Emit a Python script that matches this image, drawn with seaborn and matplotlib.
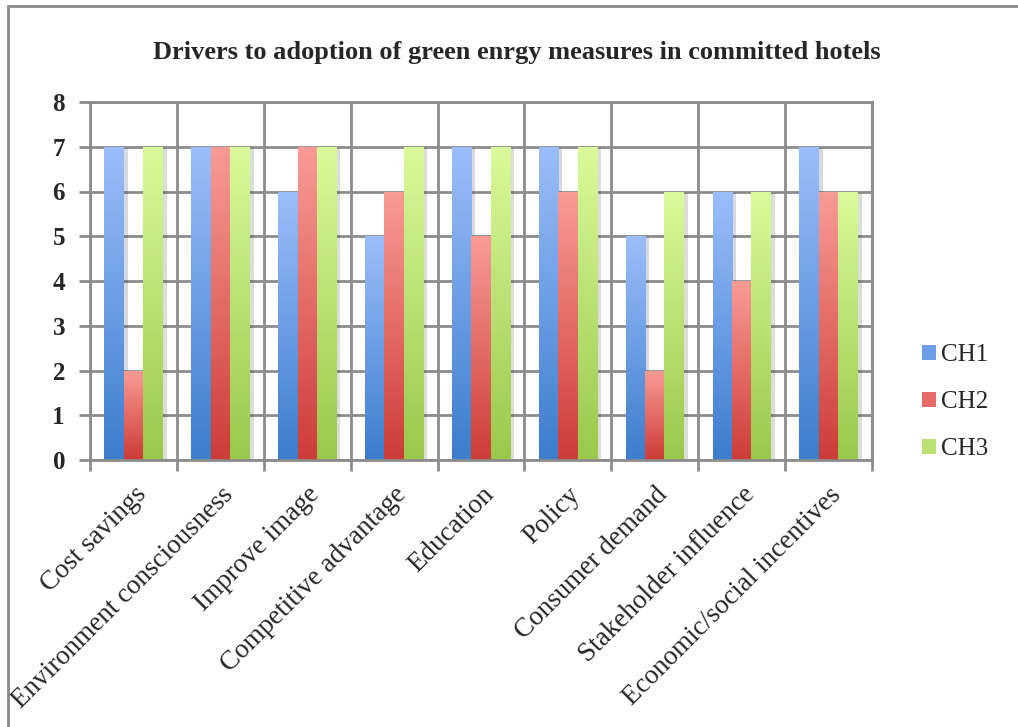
import numpy as np
import pandas as pd
import seaborn as sns
import matplotlib.pyplot as plt
import matplotlib.patheffects as pe
from matplotlib.colors import to_rgb
from matplotlib.patches import Patch, Rectangle

categories = ["Cost savings", "Environment consciousness", "Improve image",
              "Competitive advantage", "Education", "Policy", "Consumer demand",
              "Stakeholder influence", "Economic/social incentives"]
ch1 = [7, 7, 6, 5, 7, 7, 5, 6, 7]
ch2 = [2, 7, 7, 6, 5, 6, 2, 4, 6]
ch3 = [7, 7, 7, 7, 7, 7, 6, 6, 6]
series = ["CH1", "CH2", "CH3"]

# light (top) / dark (bottom) gradient ends per series
tops = ["#9bbefa", "#fa9b96", "#dafa9b"]
bottoms = ["#3c7dcd", "#cd3c37", "#9bc84b"]
mids = ["#6d9de4", "#e46b67", "#bbe172"]

df = pd.DataFrame({"Driver": categories * 3,
                   "Series": sum([[s] * len(categories) for s in series], []),
                   "Value": ch1 + ch2 + ch3})

sns.set_theme(style="white")
plt.rcParams['font.family'] = ['Liberation Serif', 'DejaVu Serif']
grid_col = "#8c8c8c"

fig = plt.figure(figsize=(10.18, 7.27), dpi=100)
ax = fig.add_axes([90 / 1018, 1 - 460 / 727, 782 / 1018, 358 / 727])

sns.barplot(data=df, x="Driver", y="Value", hue="Series", palette=mids,
            width=0.67, ax=ax, legend=False, saturation=1)

# gradient fill for every bar, clipped to the bar shape
for cont, top, bot in zip(ax.containers, tops, bottoms):
    grad = np.linspace(0, 1, 128)[:, None, None]
    img = (1 - grad) * np.array(to_rgb(bot)) + grad * np.array(to_rgb(top))
    for bar in cont:
        bar.set_edgecolor("none")
        bar.set_path_effects([pe.SimplePatchShadow(offset=(3, -1), alpha=0.18), pe.Normal()])
        x0, y0 = bar.get_x(), bar.get_y()
        w, h = bar.get_width(), bar.get_height()
        if h <= 0:
            continue
        im = ax.imshow(img, extent=[x0, x0 + w, y0, y0 + h], origin="lower",
                       aspect="auto", zorder=bar.get_zorder() + 0.1)
        im.set_clip_path(bar)

ax.set_xlim(-0.5, len(categories) - 0.5)
ax.set_ylim(0, 8)
ax.set_axisbelow(True)

ax.set_yticks(range(0, 9))
ax.set_xticks(np.arange(-0.5, len(categories)), minor=True)
ax.grid(axis="y", which="major", color=grid_col, lw=2)
ax.grid(axis="x", which="minor", color=grid_col, lw=2)
ax.grid(axis="x", which="major", visible=False)

ax.tick_params(axis="y", which="major", length=8, width=2, color=grid_col,
               direction="out", left=True, labelsize=18, pad=10)
ax.tick_params(axis="x", which="minor", length=8, width=2, color=grid_col,
               direction="out", bottom=True)
ax.tick_params(axis="x", which="major", length=0, pad=16)
for t in ax.get_yticklabels():
    t.set_fontweight("bold")
ax.set_xticks(range(len(categories)))
ax.set_xticklabels(categories, rotation=45, ha="right", va="top",
                   rotation_mode="anchor", fontsize=19.5)
for sp in ax.spines.values():
    sp.set_color(grid_col)
    sp.set_linewidth(2)
ax.set_xlabel("")
ax.set_ylabel("")

fig.text(0.508, 1 - 53 / 727, "Drivers to adoption of green enrgy measures in committed hotels",
         ha="center", va="center", fontsize=19, fontweight="bold")

handles = [Patch(facecolor=c, edgecolor="none") for c in mids]
fig.legend(handles, series, loc="center left", bbox_to_anchor=(922 / 1018, 1 - 402 / 727),
           frameon=False, fontsize=18, handlelength=0.55, handleheight=0.55,
           handletextpad=0.2, labelspacing=1.0, borderpad=0, borderaxespad=0)

# outer chart border (cut off at right and bottom in the reference)
fig.patches.append(Rectangle((8 / 1018, -0.1), 1.2, 1.1 - 6 / 727, transform=fig.transFigure,
                             fill=False, edgecolor="#8a8a8a", lw=2))

fig.savefig("out.png", dpi=100, facecolor="white")
